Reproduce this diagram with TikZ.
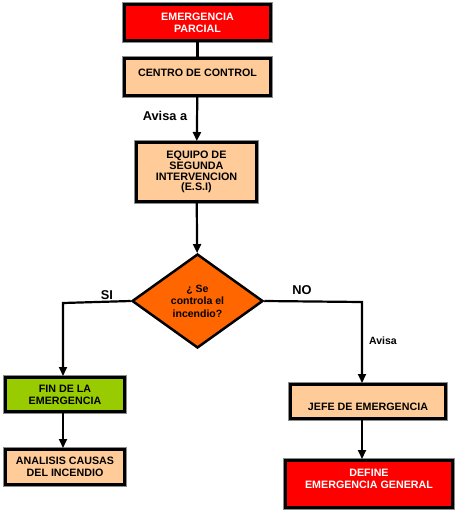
\documentclass[tikz,border=0pt]{standalone}
\usepackage{fontspec}
\setmainfont{Liberation Sans}
\usetikzlibrary{shapes.geometric,arrows.meta}
\definecolor{boxred}{HTML}{FF0000}
\definecolor{peach}{HTML}{FFCC99}
\definecolor{lime}{HTML}{99CC00}
\definecolor{dorange}{HTML}{FF6600}
\tikzset{
  box/.style={rectangle, draw=black, line width=3pt, inner sep=0pt, align=center,
    preaction={draw=black!45, line width=4.2pt},
    font=\fontsize{10.7}{12}\selectfont\bfseries},
  redbox/.style={box, fill=boxred, text=white},
  peachbox/.style={box, fill=peach},
  greenbox/.style={box, fill=lime},
  decision/.style={diamond, draw=black, line width=2.5pt, fill=dorange, inner sep=0pt,
    align=center, font=\fontsize{10.5}{12.4}\selectfont\bfseries},
  conn/.style={line width=2.2pt, black},
  arr/.style={conn, -{Triangle[length=9pt,width=8pt]}},
  lbl/.style={font=\fontsize{12.8}{14}\selectfont\bfseries, inner sep=0pt},
  slbl/.style={font=\fontsize{10.5}{12}\selectfont\bfseries, inner sep=0pt}
}
\begin{document}
\begin{tikzpicture}[x=1pt,y=-1pt]
\useasboundingbox[fill=white] (0,0) rectangle (457,515);
\node[redbox, minimum width=146pt, minimum height=36pt] (b1) at (197.5,22.5) {EMERGENCIA\\PARCIAL};
\node[peachbox, minimum width=146pt, minimum height=37pt, text height=8pt, text depth=10pt] (b2) at (197.5,77) {CENTRO DE CONTROL};
\node[peachbox, minimum width=120pt, minimum height=59pt, font=\fontsize{10.8}{10.8}\selectfont\bfseries] (b3) at (196.5,172) {EQUIPO DE\\SEGUNDA\\INTERVENCION\\(E.S.I)};
\node[decision, minimum width=131pt, minimum height=94pt] (d) at (197.5,301) {¿ Se\\controla el\\incendio?};
\node[greenbox, minimum width=119pt, minimum height=34pt] (fin) at (65,394.5) {FIN DE LA\\EMERGENCIA};
\node[peachbox, minimum width=119pt, minimum height=35pt] (ana) at (65,467) {ANALISIS CAUSAS\\DEL INCENDIO};
\node[peachbox, minimum width=155pt, minimum height=34pt, text height=19pt, text depth=2pt] (jefe) at (368,401.5) {JEFE DE EMERGENCIA};
\node[redbox, minimum width=167pt, minimum height=47pt, text height=20pt, text depth=11.3pt] (def) at (369,484) {DEFINE\\EMERGENCIA GENERAL};
\coordinate (sx) at (63,303);
\coordinate (nx) at (362,302);
\draw[conn] (b1) -- (b2);
\draw[arr] (b2) -- (b3);
\draw[arr] (b3) -- (d);
\draw[arr] (d.west) -- (sx) -- (sx |- fin.north);
\draw[arr] (fin.south -| sx) -- (ana.north -| sx);
\draw[arr] (d.east) -- (nx) -- (nx |- jefe.north);
\draw[arr] (jefe.south -| nx) -- (def.north -| nx);
\node[lbl] (avisaa) at (165,116) {Avisa a};
\node[lbl] (si) at (107,295) {SI};
\node[lbl] (no) at (302,290) {NO};
\node[slbl] (avisa) at (383,341) {Avisa};
\end{tikzpicture}
\end{document}
